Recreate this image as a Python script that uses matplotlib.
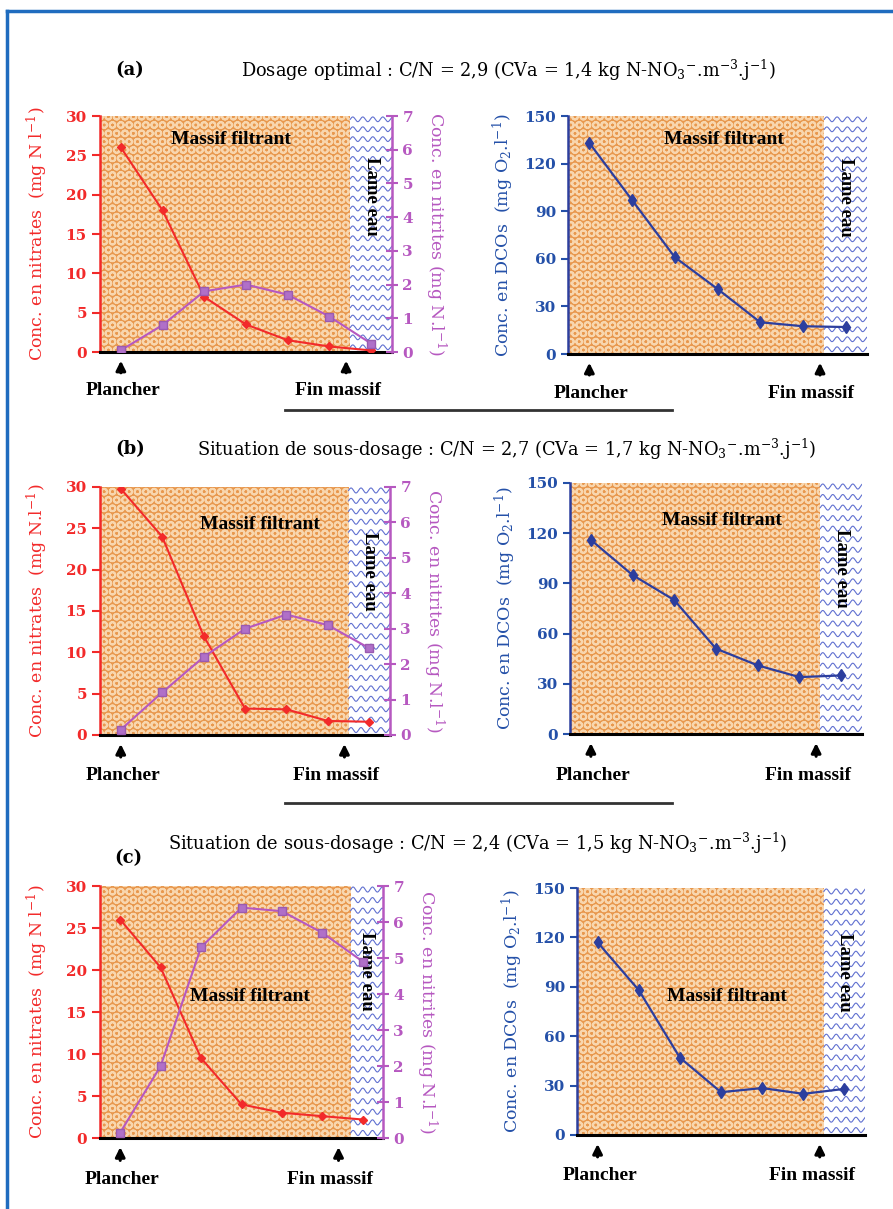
import numpy as np
import matplotlib
matplotlib.use("Agg")
import matplotlib.pyplot as plt
from matplotlib.lines import Line2D
from matplotlib.transforms import blended_transform_factory

plt.rcParams['font.family'] = ['DejaVu Serif']
plt.rcParams['mathtext.fontset'] = 'dejavuserif'
plt.rcParams['hatch.linewidth'] = 1.4

# sampling points along the filter (0 = plancher ... 6 = lame d'eau)
positions = [0, 1, 2, 3, 4, 5, 6]

nitrates_a = [26, 18, 7, 3.5, 1.5, 0.7, 0.2]
nitrites_a = [0.05, 0.8, 1.8, 2.0, 1.7, 1.05, 0.25]
dco_a = [133, 97, 61, 41, 20, 17.5, 17]

nitrates_b = [29.8, 24, 12, 3.2, 3.1, 1.7, 1.6]
nitrites_b = [0.15, 1.2, 2.2, 3.0, 3.4, 3.1, 2.45]
dco_b = [116, 95, 80, 51, 41, 34, 35]

nitrates_c = [26, 20.3, 9.5, 4, 3, 2.6, 2.2]
nitrites_c = [0.15, 2.0, 5.3, 6.4, 6.3, 5.7, 4.9]
dco_c = [117, 88, 47, 26, 28.5, 25, 28]

titles = [
    "Dosage optimal : C/N = 2,9 (CVa = 1,4 kg N-NO$_3$$^{-}$.m$^{-3}$.j$^{-1}$)",
    "Situation de sous-dosage : C/N = 2,7 (CVa = 1,7 kg N-NO$_3$$^{-}$.m$^{-3}$.j$^{-1}$)",
    "Situation de sous-dosage : C/N = 2,4 (CVa = 1,5 kg N-NO$_3$$^{-}$.m$^{-3}$.j$^{-1}$)",
]
letters = ["(a)", "(b)", "(c)"]
nitrate_labels = ["Conc. en nitrates  (mg N l$^{-1}$)",
                  "Conc. en nitrates  (mg N.l$^{-1}$)",
                  "Conc. en nitrates  (mg N l$^{-1}$)"]
nitrite_label = "Conc. en nitrites (mg N.l$^{-1}$)"
dco_label = "Conc. en DCOs  (mg O$_2$.l$^{-1}$)"

W, H = 893, 1209
RED = '#f22a2a'
MAG = '#b658c0'
BLUE = '#2c3e9e'
ORANGE = '#e8984e'
WAVE = '#6070d0'

fig = plt.figure(figsize=(W / 100, H / 100), dpi=100)


def px_axes(x0, y0, x1, y1):
    return fig.add_axes([x0 / W, 1 - y1 / H, (x1 - x0) / W, (y1 - y0) / H])


def background(ax, xb, text_y, text_x=0.45):
    ax.set_xlim(-0.5, 6.5)
    ax.axvspan(-0.5, xb, facecolor=ORANGE, edgecolor='#f8d6ae', hatch='OO',
               linewidth=0, zorder=0)
    tr = blended_transform_factory(ax.transData, ax.transAxes)
    xs = np.linspace(xb, 6.5, 200)
    for yk in np.arange(0.02, 1.0, 0.042):
        ax.plot(xs, yk + 0.010 * np.sin(2 * np.pi * (xs - xb) / 0.24),
                color=WAVE, lw=0.8, transform=tr, zorder=0.5)
    ax.text(text_x, text_y, "Massif filtrant", transform=ax.transAxes,
            ha='center', va='center', fontsize=14, fontweight='bold',
            family='Liberation Serif', zorder=5)
    ax.text((xb + 6.5) / 2, 0.66, "Lame eau", transform=tr, rotation=-90,
            ha='center', va='center', fontsize=13.5, fontweight='bold',
            family='Liberation Serif', zorder=5)
    # arrows below the axis
    for xa, lab in [(0, "Plancher"), (5.4, "Fin massif")]:
        ax.annotate('', xy=(xa, -0.025), xytext=(xa, -0.1), xycoords=tr,
                    textcoords=tr, annotation_clip=False,
                    arrowprops=dict(arrowstyle='-|>', color='k', lw=2.2,
                                    mutation_scale=14))
        ax.text(xa - (0.2 if xa > 0 else -0.05), -0.165, lab, transform=tr,
                ha='center', va='center', fontsize=14, fontweight='bold',
                family='Liberation Serif')
    ax.set_xticks([])
    ax.spines['top'].set_visible(False)
    ax.spines['bottom'].set_color('black')
    ax.spines['bottom'].set_linewidth(2.2)


def left_panel(box, nitrates, nitrites, label, xb, text_y, text_x):
    ax = px_axes(*box)
    background(ax, xb, text_y, text_x)
    ax.plot(positions, nitrates, color=RED, lw=1.5, marker='D', ms=4,
            zorder=3)
    ax.set_ylim(0, 30)
    ax.set_yticks([0, 5, 10, 15, 20, 25, 30])
    ax.spines['left'].set_color(RED)
    ax.spines['left'].set_linewidth(1.8)
    ax.spines['right'].set_visible(False)
    ax.tick_params(axis='y', colors=RED, direction='out', length=6, width=1.5,
                   labelsize=11)
    for t in ax.get_yticklabels():
        t.set_fontweight('bold')
    ax.set_ylabel(label, color=RED, fontsize=12.5)
    ax.yaxis.set_label_coords(-50 / (box[2] - box[0]), 0.5)

    ax2 = ax.twinx()
    ax2.plot(positions, nitrites, color=MAG, lw=1.5, marker='s', ms=6,
             mfc='#b070c8', mec='#9a5ab0', zorder=3)
    ax2.set_ylim(0, 7)
    ax2.set_yticks(range(8))
    for s in ['top', 'left', 'bottom']:
        ax2.spines[s].set_visible(False)
    ax2.spines['right'].set_color(MAG)
    ax2.spines['right'].set_linewidth(1.8)
    ax2.tick_params(axis='y', colors=MAG, direction='inout', length=8,
                    width=1.5, labelsize=11)
    for t in ax2.get_yticklabels():
        t.set_fontweight('bold')
    ax2.set_ylabel(nitrite_label, color=MAG, fontsize=12.5, rotation=-90)
    ax2.yaxis.set_label_coords(1 + 56 / (box[2] - box[0]), 0.5)


def right_panel(box, dco, xb, text_y, text_x):
    ax = px_axes(*box)
    background(ax, xb, text_y, text_x)
    ax.plot(positions, dco, color=BLUE, lw=1.6, marker='d', ms=6, zorder=3)
    ax.set_ylim(0, 150)
    ax.set_yticks([0, 30, 60, 90, 120, 150])
    ax.spines['right'].set_visible(False)
    ax.spines['left'].set_color(BLUE)
    ax.spines['left'].set_linewidth(1.8)
    ax.tick_params(axis='y', colors='#2450a8', direction='out', length=5,
                   width=1.5, labelsize=11)
    for t in ax.get_yticklabels():
        t.set_fontweight('bold')
    ax.set_ylabel(dco_label, color='#2450a8', fontsize=12.5)
    ax.yaxis.set_label_coords(-52 / (box[2] - box[0]), 0.5)


left_panel((100, 116, 392, 352), nitrates_a, nitrites_a, nitrate_labels[0],
           5.5, 0.9, 0.45)
right_panel((568, 116, 867, 354), dco_a, 5.5, 0.9, 0.52)
left_panel((100, 487, 390, 735), nitrates_b, nitrites_b, nitrate_labels[1],
           5.5, 0.85, 0.55)
right_panel((570, 483, 862, 734), dco_b, 5.5, 0.85, 0.52)
left_panel((100, 886, 383, 1138), nitrates_c, nitrites_c, nitrate_labels[2],
           5.7, 0.56, 0.53)
right_panel((577, 888, 865, 1135), dco_c, 5.5, 0.56, 0.52)

# panel titles
for (lx, ly), (tx, ty), letter, title in zip(
        [(130, 70), (130, 449), (128, 858)],
        [(508, 70), (507, 449), (478, 843)], letters, titles):
    fig.text(lx / W, 1 - ly / H, letter, ha='center', va='center',
             fontsize=13, fontweight='bold')
    fig.text(tx / W, 1 - ty / H, title, ha='center', va='center',
             fontsize=12.8)

# separators
for y in [410, 803]:
    fig.add_artist(Line2D([285 / W, 672 / W], [1 - y / H] * 2, color='#333333',
                          lw=2))

# frame
fig.add_artist(Line2D([7 / W, 1], [1 - 11 / H] * 2, color='#1f6cbf', lw=2.5))
fig.add_artist(Line2D([7 / W, 7 / W], [0, 1 - 11 / H], color='#1f6cbf', lw=2.5))

fig.savefig("out.png", dpi=100)
